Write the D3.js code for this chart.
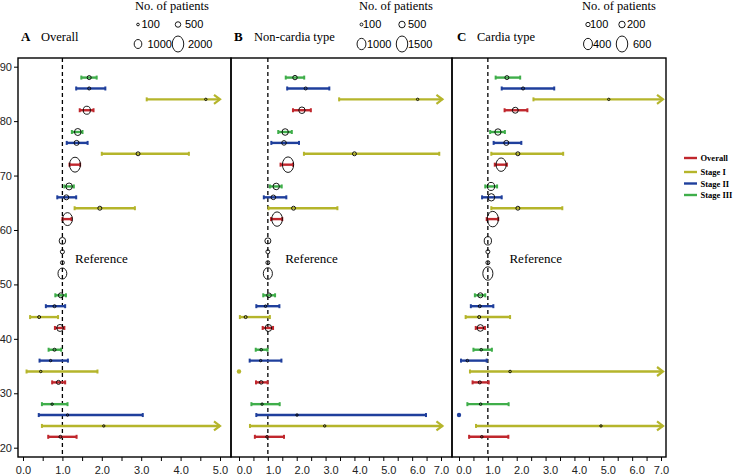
<!DOCTYPE html>
<html><head><meta charset="utf-8">
<script src="https://cdn.jsdelivr.net/npm/d3@7"></script>
<style>
body{margin:0;background:#fff;}
svg{display:block;}
</style></head>
<body>
<svg id="c" width="733" height="475"></svg>
<script>
// ---------- DATA ----------
const rowY = [88,86,84,82, 78,76,74,72, 68,66,64,62, 58,56,54,52, 48,46,44,42, 38,36,34,32, 28,26,24,22];
const stageNames = ["Stage III","Stage II","Stage I","Overall"];
const legendStages = ["Overall","Stage I","Stage II","Stage III"];
const refGroup = 3; // 4th group of rows is the reference group

const hrA = [1.68,1.68,4.64,1.62, 1.39,1.36,2.92,1.32, 1.17,1.10,1.95,1.13, 1,1,1,1, 0.96,0.80,0.41,0.94, 0.80,0.70,0.45,0.90, 0.74,1.13,2.05,0.95];
const loA = [1.48,1.35,3.14,1.44, 1.24,1.11,2.00,1.18, 1.05,0.87,1.31,1.00, null,null,null,null, 0.82,0.58,0.18,0.81, 0.65,0.42,0.09,0.74, 0.48,0.40,0.48,0.64];
const hiA = [1.87,2.09,6.50,1.79, 1.51,1.64,4.21,1.45, 1.29,1.35,2.84,1.23, null,null,null,null, 1.09,1.07,0.89,1.05, 0.97,1.14,1.89,1.07, 1.13,3.04,8.00,1.36];
const nA  = [290,150,60,860, 720,430,280,1850, 700,420,290,1560, 700,300,280,1300, 420,150,140,720, 150,60,60,290, 60,60,50,140];

const hrB = [1.94,2.31,6.19,2.18, 1.60,1.56,4.00,1.70, 1.29,1.19,1.89,1.32, 1,1,1,1, 1.04,0.92,0.23,1.02, 0.77,0.75,0.00,0.77, 0.80,2.01,2.97,0.97];
const loB = [1.62,1.67,3.47,1.87, 1.36,1.12,2.25,1.44, 1.07,0.86,1.02,1.11, null,null,null,null, 0.84,0.60,0.03,0.82, 0.58,0.37,0.00,0.59, 0.43,0.60,0.38,0.55];
const hiB = [2.26,3.13,9.00,2.49, 1.83,2.08,6.94,1.87, 1.48,1.64,3.41,1.50, null,null,null,null, 1.25,1.40,1.07,1.18, 0.99,1.47,0.00,0.99, 1.41,6.48,9.50,1.56];
const nB  = [260,110,45,490, 490,280,210,1450, 490,280,210,1330, 430,210,210,1030, 280,65,110,540, 65,45,30,170, 45,45,45,65];

const hrC = [1.66,2.22,5.19,1.95, 1.35,1.64,2.04,1.46, 1.11,1.12,2.04,1.17, 1,1,1,1, 0.74,0.72,0.70,0.74, 0.77,0.29,1.77,0.72, 0.75,0.00,4.92,0.79];
const loC = [1.27,1.48,2.58,1.58, 1.08,1.20,1.12,1.24, 0.91,0.80,1.12,0.96, null,null,null,null, 0.55,0.41,0.23,0.58, 0.50,0.07,0.38,0.47, 0.29,0.00,0.59,0.35];
const hiC = [2.12,3.30,9.00,2.37, 1.59,2.16,3.61,1.66, 1.32,1.48,3.58,1.36, null,null,null,null, 0.91,1.19,1.77,0.90, 1.14,0.96,8.50,1.03, 1.72,0.00,9.00,1.71];
const nC  = [85,45,17,170, 190,130,85,490, 260,230,85,580, 270,85,85,490, 130,45,45,200, 25,25,25,45, 25,15,17,25];

const legendA = [100,500,1000,2000];
const legendB = [100,500,1000,1500];
const legendC = [100,200,400,600];

const yTicks = [20,30,40,50,60,70,80,90];

// ---------- LAYOUT / STYLE ----------
const colors = {"Overall":"#c0272d","Stage I":"#b5b52b","Stage II":"#1f3f9c","Stage III":"#3fae4a"};
const serif = "'Liberation Serif','Times New Roman',serif";
const sans = "'Liberation Sans',Arial,sans-serif";
const plotTop = 58, plotBottom = 457;

const panels = [
  {letter:"A", title:"Overall", left:18, right:231, px0:23, px1:220, xmax:5, arrowMax:5.0, labShift:0,
   hr:hrA, lo:loA, hi:hiA, n:nA, leg:legendA, legHead:172, legX:[138,178], legTx:[[141.5,185],[147.5,188]], refDx:12.6, yAxis:true},
  {letter:"B", title:"Non-cardia type", left:231, right:452, px0:239, px1:441, xmax:7, arrowMax:7.05, labShift:5,
   hr:hrB, lo:loB, hi:hiB, n:nB, leg:legendB, legHead:396, legX:[361.5,402], legTx:[[363,408],[367,408]], refDx:17.3, yAxis:false},
  {letter:"C", title:"Cardia type", left:452, right:666, px0:459, px1:661, xmax:7, arrowMax:7.07, labShift:4.5,
   hr:hrC, lo:loC, hi:hiC, n:nC, leg:legendC, legHead:619, legX:[588,622], legTx:[[590,627],[593,633]], refDx:21.6, yAxis:false}
];

const svg = d3.select("#c");
const y = d3.scaleLinear().domain([20,90]).range([447.7,66.7]);

function radii(n, max){
  const ry = 1 + 7*n/max;
  const rx = ry <= 3 ? ry : 3 + (ry-3)*0.55;
  return [rx, ry];
}

panels.forEach(p => {
  const g = svg.append("g");
  const x = d3.scaleLinear().domain([0,p.xmax]).range([p.px0,p.px1]);
  const nmax = p.leg[p.leg.length-1];

  // frame
  g.append("rect").attr("x",p.left).attr("y",plotTop).attr("width",p.right-p.left).attr("height",plotBottom-plotTop)
    .attr("fill","none").attr("stroke","#000").attr("stroke-width",1.4);

  // x axis
  const ticks = d3.range(0,p.xmax+0.001,0.5);
  const ax = g.append("g").attr("transform",`translate(0,${plotBottom})`)
    .call(d3.axisBottom(x).tickValues(ticks).tickSize(4).tickPadding(5)
      .tickFormat(d => Number.isInteger(d) ? d.toFixed(1) : ""));
  ax.select(".domain").remove();
  ax.selectAll(".tick line").attr("stroke","#000").attr("stroke-width",1);
  ax.selectAll(".tick text").attr("font-family",sans).attr("font-size",11).attr("fill","#222")
    .attr("dx", d => (d < p.xmax ? p.labShift : 0));

  if (p.yAxis){
    const ay = g.append("g").attr("transform",`translate(${p.left},0)`)
      .call(d3.axisLeft(y).tickValues(yTicks).tickSize(4).tickPadding(2).tickFormat(d3.format("d")));
    ay.select(".domain").remove();
    ay.selectAll(".tick text").attr("font-family",sans).attr("font-size",11).attr("fill","#222");
  }

  // dashed reference line
  g.append("line").attr("x1",x(1)).attr("x2",x(1)).attr("y1",plotTop).attr("y2",plotBottom)
    .attr("stroke","#000").attr("stroke-width",1.3).attr("stroke-dasharray","4,3");

  // titles
  svg.append("text").attr("x",p.left+ (p.letter==="C"?5:3)).attr("y",40.5).text(p.letter)
    .attr("font-family",serif).attr("font-weight","bold").attr("font-size",13);
  svg.append("text").attr("x",p.left+ (p.letter==="C"?25:23)).attr("y",40.5).text(p.title)
    .attr("font-family",serif).attr("font-size",12.5);

  // size legend
  svg.append("text").attr("x",p.legHead).attr("y",9.5).attr("text-anchor","middle")
    .text("No. of patients").attr("font-family",serif).attr("font-size",12.5);
  p.leg.forEach((v,i) => {
    const col = i%2, row = Math.floor(i/2);
    const cy = row===0 ? 24.5 : 44;
    const [rx,ry] = radii(v,nmax);
    svg.append("ellipse").attr("cx",p.legX[col]).attr("cy",cy).attr("rx",rx).attr("ry",ry)
      .attr("fill","none").attr("stroke","#000").attr("stroke-width",0.9);
    svg.append("text").attr("x",p.legTx[row][col]).attr("y",cy+3.8).text(v)
      .attr("font-family",sans).attr("font-size",11);
  });

  // data rows
  rowY.forEach((ry,i) => {
    const grp = Math.floor(i/4);
    const stage = stageNames[i%4];
    const col = colors[stage];
    const cy = y(ry);
    const [rx,ryy] = radii(p.n[i],nmax);
    if (grp !== refGroup && p.lo[i] !== null){
      const lo = p.lo[i], hiRaw = p.hi[i];
      if (lo === hiRaw){
        // degenerate interval: only a coloured dot
        g.append("circle").attr("cx",x(p.hr[i])).attr("cy",cy).attr("r",2.2).attr("fill",col);
        return;
      }
      const arrow = hiRaw > p.xmax;
      const hi = arrow ? p.arrowMax : hiRaw;
      g.append("line").attr("x1",x(lo)).attr("x2",x(hi)).attr("y1",cy).attr("y2",cy)
        .attr("stroke",col).attr("stroke-width",2.4);
      g.append("line").attr("x1",x(lo)).attr("x2",x(lo)).attr("y1",cy-2).attr("y2",cy+2)
        .attr("stroke",col).attr("stroke-width",2);
      if (arrow){
        const xe = x(hi);
        g.append("path").attr("d",`M${xe-6},${cy-4.5}L${xe},${cy}L${xe-6},${cy+4.5}`)
          .attr("fill","none").attr("stroke",col).attr("stroke-width",2.2);
      } else {
        g.append("line").attr("x1",x(hi)).attr("x2",x(hi)).attr("y1",cy-2).attr("y2",cy+2)
          .attr("stroke",col).attr("stroke-width",2);
      }
    }
    g.append("ellipse").attr("cx",x(p.hr[i])).attr("cy",cy).attr("rx",rx).attr("ry",ryy)
      .attr("fill","none").attr("stroke","#000").attr("stroke-width",0.9);
  });

  // Reference label
  g.append("text").attr("x",x(1)+p.refDx).attr("y",y(54)+0.5).text("Reference")
    .attr("font-family",serif).attr("font-size",13);
});

// colour legend
legendStages.forEach((s,i) => {
  const ly = [158,172,183.5,195][i];
  svg.append("line").attr("x1",684).attr("x2",697).attr("y1",ly).attr("y2",ly)
    .attr("stroke",colors[s]).attr("stroke-width",2.4);
  svg.append("text").attr("x",700.5).attr("y",ly+3).text(s)
    .attr("font-family",serif).attr("font-weight","bold").attr("font-size",8.5);
});
</script>
</body></html>
